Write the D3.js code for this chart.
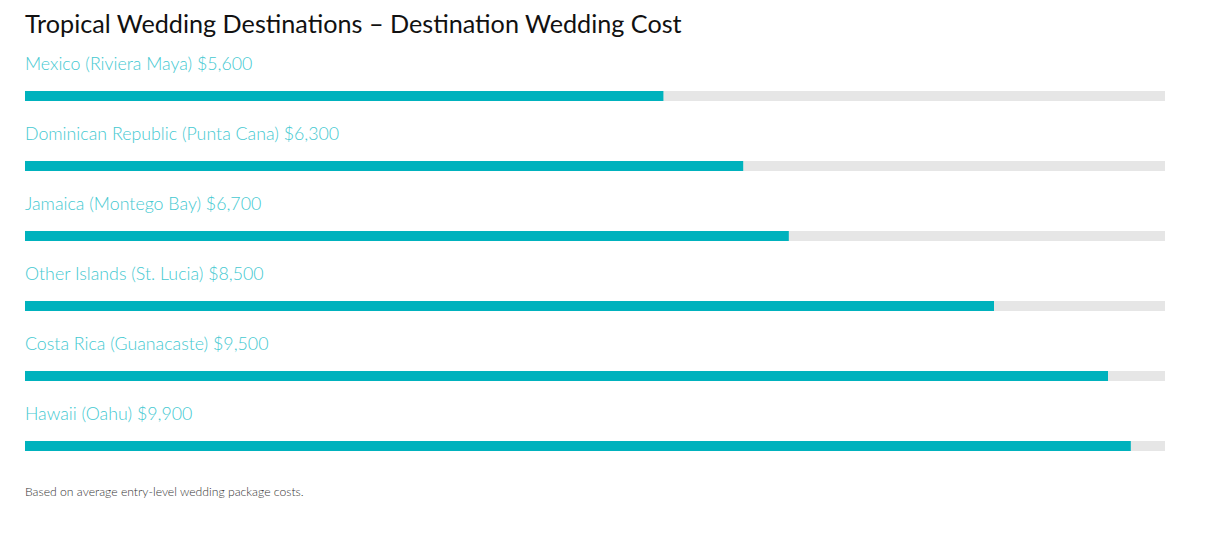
<!DOCTYPE html>
<html>
<head>
<meta charset="utf-8">
<script src="https://cdn.jsdelivr.net/npm/d3@7"></script>
<style>
  body { margin: 0; background: #fff; }
  svg text { font-family: Lato, "Open Sans", sans-serif; }
</style>
</head>
<body>
<svg id="chart"></svg>
<script>
// destinations, top to bottom
const destinations = ['Mexico (Riviera Maya)', 'Dominican Republic (Punta Cana)', 'Jamaica (Montego Bay)',
  'Other Islands (St. Lucia)', 'Costa Rica (Guanacaste)', 'Hawaii (Oahu)'];
// costs as written in the labels
const costs = [5600, 6300, 6700, 8500, 9500, 9900];
// bar lengths as drawn (the Hawaii bar stops short of its label)
const barValues = [5600, 6300, 6700, 8500, 9500, 9700];
const maxCost = 10000;

const width = 1205, height = 533;
const left = 25, right = 1165;
const rowTop = 91, rowStep = 70, barH = 10;

const svg = d3.select('#chart').attr('width', width).attr('height', height);

svg.append('text')
  .attr('x', left).attr('y', 33)
  .attr('font-size', 25.2).attr('fill', '#111')
  .text('Tropical Wedding Destinations \u2013 Destination Wedding Cost');

const x = d3.scaleLinear().domain([0, maxCost]).range([left, right]);
const fmt = d3.format('$,');

const rows = svg.selectAll('.row')
  .data(destinations)
  .enter().append('g')
  .attr('class', 'row')
  .attr('transform', (d, i) => `translate(0,${rowTop + i * rowStep})`);

rows.append('text')
  .attr('x', left).attr('y', -21)
  .attr('font-size', 17.8).attr('font-weight', 300)
  .attr('fill', '#45c9d1')
  .text((d, i) => `${d} ${fmt(costs[i])}`);

rows.append('rect')
  .attr('x', left).attr('y', 0)
  .attr('width', x(maxCost) - left).attr('height', barH)
  .attr('fill', '#e6e6e6');

rows.append('rect')
  .attr('x', left).attr('y', 0)
  .attr('width', (d, i) => x(barValues[i]) - left).attr('height', barH)
  .attr('fill', '#00b2bd');

svg.append('text')
  .attr('x', left).attr('y', 496)
  .attr('font-size', 12.2).attr('font-weight', 300).attr('fill', '#333')
  .text('Based on average entry-level wedding package costs.');
</script>
</body>
</html>
